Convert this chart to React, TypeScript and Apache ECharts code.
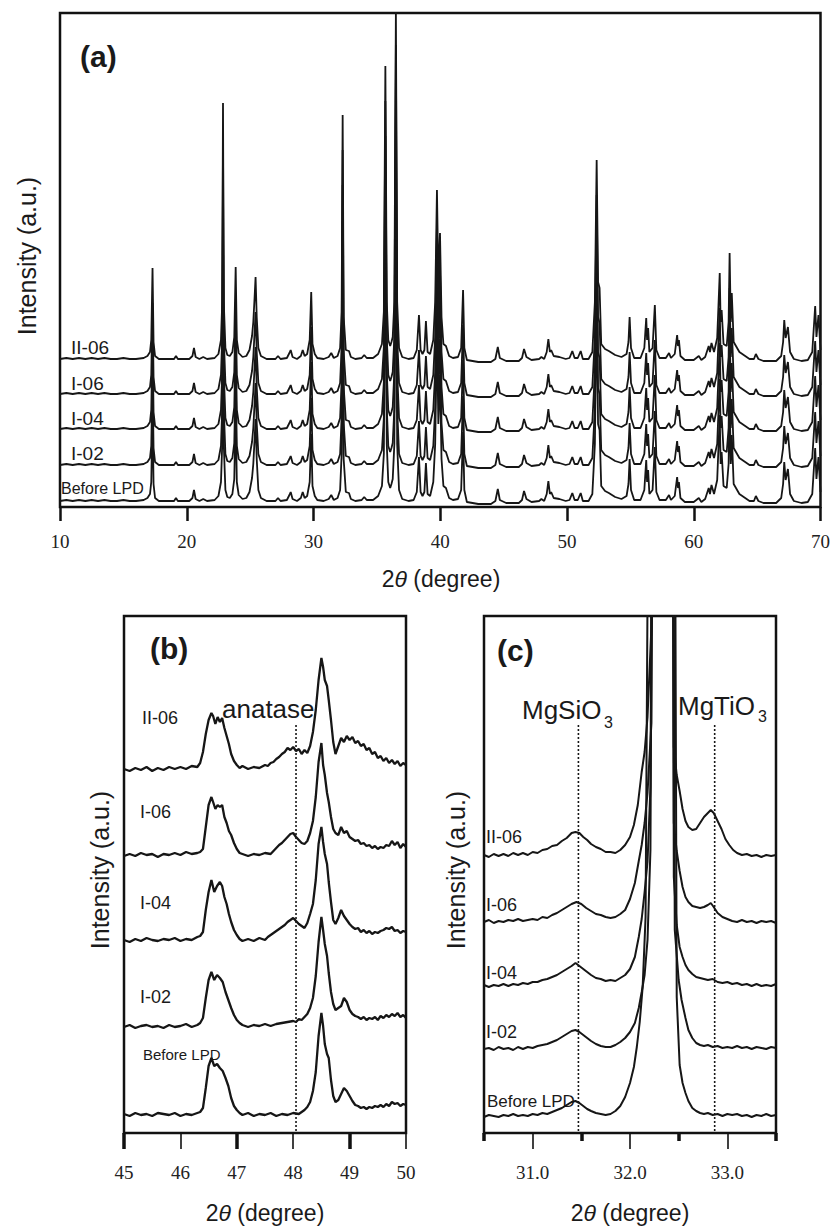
import React, { useEffect, useRef } from "react";
import * as echarts from "echarts";

// ---------------- DATA ----------------
const SAMPLES = ["Before LPD", "I-02", "I-04", "I-06", "II-06"];

const X_TICKS_A = [10, 20, 30, 40, 50, 60, 70];
const X_TICKS_B = [45, 46, 47, 48, 49, 50];
const X_TICKS_B_BOLD = [45, 47, 49];
const X_TICKS_C = [31, 32, 33];
const X_TICKS_C_BOLD = [30.5, 31.5, 32.5, 33.5];

// vertical stacking offsets (px units of each panel's intensity axis)
const A_OFFSETS = [3, 39, 75, 110, 145];
const B_OFFSETS = [17, 105, 191, 276, 361];
const C_OFFSETS = [16, 83, 146, 210, 276];

// reference positions of dotted marker lines (2θ)
const ANATASE_POS = 48.05;
const MGSIO3_POS = 31.47;
const MGTIO3_POS = 32.87;
const MARK_RANGE = [2, 410];

// panel (a) pattern: [2θ, intensity above baseline]
const PATTERN_A = [
  [10, 3], [10.5, 4], [11, 3], [11.5, 4], [12, 3], [12.5, 4], [13, 3], [13.5, 4], [14, 3], [14.5, 3], [15, 4], [15.5, 3], [16, 3], [16.6, 4], [16.9, 6], [17.1, 10], [17.2, 22], [17.3, 94], [17.38, 20], [17.5, 6], [17.8, 3],
  [18.5, 3], [19.0, 3], [19.15, 6], [19.3, 3], [20.2, 3], [20.45, 6], [20.57, 14], [20.7, 5], [21.0, 3], [21.3, 5], [21.6, 3], [22.2, 4], [22.5, 8], [22.7, 22], [22.8, 60], [22.86, 259], [22.92, 60], [23.05, 14], [23.2, 7], [23.4, 6], [23.6, 10], [23.75, 25], [23.86, 95], [23.95, 22], [24.1, 9], [24.4, 5], [24.7, 6], [24.95, 12], [25.15, 26], [25.25, 40], [25.35, 64], [25.43, 85], [25.52, 45], [25.65, 14], [25.85, 6],
  [26.3, 3], [27.0, 3], [27.2, 6], [27.4, 3], [27.9, 4], [28.1, 9], [28.2, 12], [28.35, 5], [28.7, 3], [29.0, 6], [29.15, 12], [29.3, 6], [29.5, 8], [29.7, 22], [29.82, 70], [29.92, 18], [30.1, 8], [30.3, 4], [30.8, 3], [31.2, 5], [31.4, 9], [31.6, 4], [31.9, 6], [32.1, 14], [32.22, 50], [32.3, 247], [32.38, 45], [32.55, 12], [32.8, 11], [32.95, 5], [33.3, 3], [33.8, 4], [34.0, 7], [34.2, 4], [34.7, 4],
  [35.1, 8], [35.4, 18], [35.55, 50], [35.67, 296], [35.78, 60], [35.9, 22], [36.05, 16], [36.15, 20], [36.25, 25], [36.38, 60], [36.5, 352], [36.6, 60], [36.75, 14], [37.0, 5], [37.5, 3], [37.9, 4], [38.15, 12], [38.32, 47], [38.45, 12], [38.6, 8], [38.75, 12], [38.87, 41], [39.0, 10], [39.2, 8], [39.45, 22], [39.6, 60], [39.74, 172], [39.85, 80], [39.98, 129], [40.1, 45], [40.25, 18], [40.45, 16], [40.7, 6], [41.0, 4], [41.4, 5], [41.65, 14], [41.8, 72], [41.9, 14], [42.1, 2],
  [43.0, 0], [44.0, 0], [44.35, 3], [44.54, 15], [44.7, 4], [45.2, 1], [46.2, 1], [46.45, 4], [46.61, 13], [46.8, 5], [47.2, 2], [47.8, 3], [47.98, 5], [48.2, 3], [48.4, 10], [48.53, 23], [48.65, 10], [48.75, 12], [48.95, 6], [49.4, 5], [49.9, 3], [50.2, 4], [50.42, 11], [50.6, 4], [50.85, 4], [51.08, 11], [51.25, 3], [51.7, 3],
  [52.0, 10], [52.2, 60], [52.34, 202], [52.45, 80], [52.57, 74], [52.7, 18], [53.0, 13], [53.3, 11], [53.8, 7], [54.3, 5], [54.7, 8], [54.85, 20], [54.94, 45], [55.05, 14], [55.3, 4], [55.8, 4], [56.1, 14], [56.25, 44], [56.32, 22], [56.4, 34], [56.5, 10], [56.75, 14], [56.93, 57], [57.05, 12], [57.3, 4], [57.8, 4], [58.05, 9], [58.2, 4], [58.5, 8], [58.69, 27], [58.76, 16], [58.83, 22], [58.95, 6], [59.3, 2],
  [60.0, 2], [60.4, 6], [60.6, 2], [60.9, 5], [61.18, 16], [61.28, 10], [61.4, 19], [61.6, 10], [61.85, 24], [62.05, 89], [62.12, 40], [62.2, 52], [62.35, 18], [62.6, 16], [62.75, 40], [62.83, 109], [62.92, 40], [63.0, 69], [63.15, 20], [63.6, 10], [64.4, 3], [64.75, 3], [64.9, 8], [65.1, 3], [65.5, 1], [66.5, 1], [66.9, 6], [67.05, 20], [67.14, 42], [67.25, 24], [67.43, 35], [67.6, 10], [67.9, 3], [68.5, 1], [69.0, 2], [69.35, 10], [69.5, 40], [69.58, 56], [69.68, 25], [69.84, 47], [70, 12],
];

// panel (b) traces
const B_BEFORE = [
  [45.0, 2], [45.1, 0], [45.2, 3], [45.3, 1], [45.4, 2], [45.5, 0], [45.6, 3], [45.7, 2], [45.8, 1], [45.9, 3], [46.0, 0], [46.1, 2], [46.2, 1], [46.3, 3], [46.35, 4], [46.4, 8], [46.45, 28], [46.5, 50], [46.55, 58], [46.6, 50], [46.65, 52], [46.7, 48], [46.75, 45], [46.8, 38], [46.85, 30], [46.9, 18], [46.95, 10], [47.0, 6], [47.05, 3],
  [47.1, 1], [47.2, 3], [47.3, 0], [47.4, 2], [47.5, 1], [47.6, 3], [47.7, 0], [47.8, 2], [47.9, 1], [48.0, 3], [48.1, 2], [48.15, 4], [48.2, 6], [48.25, 9], [48.3, 14], [48.35, 25], [48.4, 44], [48.45, 80], [48.5, 103], [48.53, 90], [48.56, 72], [48.6, 62], [48.63, 58], [48.67, 36], [48.71, 20], [48.75, 14], [48.8, 16], [48.85, 22], [48.9, 28], [48.95, 25],
  [49.0, 20], [49.05, 15], [49.1, 11], [49.15, 10], [49.2, 8], [49.25, 9], [49.3, 7], [49.35, 9], [49.4, 8], [49.45, 10], [49.5, 9], [49.55, 11], [49.6, 9], [49.65, 12], [49.7, 10], [49.75, 14], [49.8, 12], [49.85, 13], [49.9, 10], [49.95, 12], [50.0, 11],
];
const B_I02 = [
  [45.0, 1], [45.1, 3], [45.2, 0], [45.3, 2], [45.4, 3], [45.5, 1], [45.6, 2], [45.7, 0], [45.8, 3], [45.9, 1], [46.0, 2], [46.1, 4], [46.2, 1], [46.3, 3], [46.35, 5], [46.4, 10], [46.45, 30], [46.5, 48], [46.55, 56], [46.6, 48], [46.65, 53], [46.7, 50], [46.75, 46], [46.8, 36], [46.85, 28], [46.9, 20], [46.95, 13], [47.0, 8], [47.05, 5], [47.1, 3],
  [47.2, 1], [47.3, 3], [47.4, 2], [47.5, 4], [47.6, 2], [47.7, 4], [47.8, 5], [47.9, 6], [48.0, 7], [48.05, 6], [48.1, 9], [48.15, 8], [48.2, 11], [48.25, 14], [48.3, 20], [48.35, 30], [48.4, 52], [48.45, 86], [48.5, 111], [48.53, 98], [48.56, 84], [48.6, 72], [48.63, 55], [48.67, 36], [48.71, 24], [48.75, 18], [48.8, 20], [48.85, 22], [48.9, 30], [48.95, 26],
  [49.0, 18], [49.05, 14], [49.1, 12], [49.15, 11], [49.2, 9], [49.25, 11], [49.3, 8], [49.35, 10], [49.4, 9], [49.45, 11], [49.5, 8], [49.55, 12], [49.6, 10], [49.65, 13], [49.7, 11], [49.75, 14], [49.8, 12], [49.85, 15], [49.9, 11], [49.95, 13], [50.0, 10],
];
const B_I04 = [
  [45.0, 2], [45.1, 0], [45.2, 3], [45.3, 1], [45.4, 4], [45.5, 2], [45.6, 1], [45.7, 3], [45.8, 2], [45.9, 4], [46.0, 1], [46.1, 3], [46.2, 2], [46.3, 5], [46.35, 6], [46.4, 10], [46.45, 32], [46.5, 50], [46.55, 62], [46.6, 50], [46.65, 56], [46.7, 60], [46.74, 56], [46.78, 45], [46.82, 38], [46.86, 28], [46.9, 20], [46.95, 12], [47.0, 7], [47.05, 3],
  [47.1, 1], [47.2, 3], [47.3, 1], [47.4, 4], [47.5, 2], [47.55, 5], [47.6, 7], [47.65, 9], [47.7, 11], [47.75, 13], [47.8, 15], [47.85, 17], [47.9, 20], [47.95, 22], [48.0, 24], [48.05, 21], [48.1, 18], [48.15, 16], [48.2, 14], [48.25, 19], [48.3, 28], [48.35, 38], [48.4, 62], [48.45, 98], [48.5, 115], [48.53, 100], [48.56, 88], [48.6, 78], [48.63, 60], [48.67, 40], [48.71, 22], [48.75, 18], [48.8, 24], [48.85, 32], [48.9, 26], [48.95, 22],
  [49.0, 18], [49.05, 15], [49.1, 13], [49.15, 14], [49.2, 10], [49.25, 12], [49.3, 9], [49.35, 11], [49.4, 8], [49.45, 10], [49.5, 9], [49.55, 11], [49.6, 12], [49.65, 14], [49.7, 13], [49.75, 15], [49.8, 11], [49.85, 12], [49.9, 9], [49.95, 11], [50.0, 10],
];
const B_I06 = [
  [45.0, 1], [45.1, 3], [45.2, 1], [45.3, 4], [45.4, 2], [45.5, 3], [45.6, 0], [45.7, 3], [45.8, 2], [45.9, 4], [46.0, 2], [46.1, 5], [46.2, 3], [46.3, 4], [46.35, 5], [46.4, 8], [46.45, 30], [46.5, 52], [46.55, 60], [46.58, 55], [46.62, 48], [46.66, 52], [46.7, 50], [46.74, 52], [46.78, 40], [46.82, 34], [46.86, 26], [46.9, 22], [46.95, 14], [47.0, 8], [47.05, 4],
  [47.1, 3], [47.2, 1], [47.3, 3], [47.4, 2], [47.5, 4], [47.6, 3], [47.65, 6], [47.7, 9], [47.75, 12], [47.8, 14], [47.85, 17], [47.9, 20], [47.95, 23], [48.0, 24], [48.05, 20], [48.1, 17], [48.15, 14], [48.2, 13], [48.25, 16], [48.3, 24], [48.35, 36], [48.4, 60], [48.45, 95], [48.5, 114], [48.53, 92], [48.56, 82], [48.6, 64], [48.63, 55], [48.67, 40], [48.71, 28], [48.75, 24], [48.8, 22], [48.85, 30], [48.9, 24], [48.95, 26],
  [49.0, 20], [49.05, 18], [49.1, 16], [49.15, 17], [49.2, 13], [49.25, 14], [49.3, 11], [49.35, 12], [49.4, 9], [49.45, 11], [49.5, 8], [49.55, 10], [49.6, 9], [49.65, 12], [49.7, 11], [49.75, 16], [49.8, 12], [49.85, 15], [49.9, 9], [49.95, 13], [50.0, 10],
];
const B_II06 = [
  [45.0, 3], [45.1, 1], [45.2, 4], [45.3, 2], [45.4, 5], [45.5, 1], [45.6, 4], [45.7, 2], [45.8, 5], [45.9, 3], [46.0, 5], [46.1, 3], [46.2, 6], [46.3, 5], [46.35, 9], [46.4, 20], [46.45, 38], [46.5, 52], [46.55, 59], [46.58, 56], [46.62, 48], [46.66, 55], [46.7, 50], [46.74, 54], [46.78, 44], [46.82, 36], [46.86, 28], [46.9, 18], [46.95, 11], [47.0, 7], [47.05, 4],
  [47.1, 6], [47.2, 3], [47.3, 5], [47.4, 4], [47.5, 7], [47.55, 6], [47.6, 9], [47.65, 10], [47.7, 13], [47.75, 15], [47.8, 18], [47.85, 20], [47.9, 24], [47.95, 22], [48.0, 25], [48.05, 21], [48.1, 23], [48.15, 18], [48.2, 22], [48.25, 19], [48.3, 26], [48.35, 40], [48.4, 62], [48.45, 92], [48.5, 114], [48.53, 105], [48.56, 92], [48.6, 86], [48.63, 72], [48.67, 52], [48.71, 30], [48.75, 18], [48.8, 26], [48.85, 34], [48.9, 30], [48.95, 36],
  [49.0, 32], [49.05, 35], [49.1, 29], [49.15, 31], [49.2, 26], [49.25, 28], [49.3, 22], [49.35, 24], [49.4, 18], [49.45, 20], [49.5, 14], [49.55, 16], [49.6, 11], [49.65, 14], [49.7, 9], [49.75, 12], [49.8, 8], [49.85, 11], [49.9, 6], [49.95, 9], [50.0, 7],
];

// panel (c) traces
const C_BEFORE = [
  [30.5, 0], [30.55, 2], [30.6, 1], [30.65, 0], [30.7, 2], [30.75, 1], [30.8, 3], [30.85, 1], [30.9, 2], [30.95, 1], [31.0, 3], [31.05, 2], [31.1, 4], [31.15, 3], [31.2, 5], [31.25, 7], [31.3, 9], [31.35, 12], [31.4, 15], [31.44, 16], [31.48, 14], [31.52, 11], [31.56, 8], [31.6, 6], [31.65, 4], [31.7, 3], [31.75, 2], [31.8, 3], [31.85, 6], [31.9, 11], [31.95, 20],
  [32.0, 34], [32.04, 50], [32.07, 70], [32.1, 95], [32.13, 130], [32.16, 200], [32.21, 1000], [32.45, 1000], [32.48, 120], [32.51, 52], [32.54, 34], [32.57, 24], [32.6, 16], [32.64, 9], [32.68, 6], [32.72, 4], [32.76, 3], [32.8, 4], [32.85, 2], [32.9, 3], [32.95, 1],
  [33.0, 3], [33.05, 2], [33.1, 3], [33.15, 1], [33.2, 2], [33.25, 0], [33.3, 2], [33.35, 1], [33.4, 3], [33.45, 1], [33.5, 2],
];
const C_I02 = [
  [30.5, 1], [30.55, 2], [30.6, 0], [30.65, 3], [30.7, 1], [30.75, 2], [30.8, 0], [30.85, 3], [30.9, 1], [30.95, 3], [31.0, 2], [31.05, 4], [31.1, 5], [31.15, 6], [31.2, 8], [31.25, 10], [31.3, 13], [31.35, 16], [31.4, 19], [31.44, 20], [31.48, 18], [31.52, 15], [31.56, 12], [31.6, 9], [31.65, 6], [31.7, 4], [31.75, 3], [31.8, 3], [31.85, 5], [31.9, 8], [31.95, 12],
  [32.0, 18], [32.05, 27], [32.09, 42], [32.12, 58], [32.15, 75], [32.18, 110], [32.21, 200], [32.25, 1000], [32.43, 1000], [32.46, 120], [32.5, 70], [32.53, 50], [32.57, 32], [32.6, 20], [32.64, 12], [32.68, 7], [32.72, 5], [32.76, 4], [32.8, 5], [32.85, 3], [32.9, 4], [32.95, 2],
  [33.0, 3], [33.05, 2], [33.1, 4], [33.15, 2], [33.2, 3], [33.25, 1], [33.3, 3], [33.35, 2], [33.4, 1], [33.45, 3], [33.5, 2],
];
const C_I04 = [
  [30.5, 2], [30.55, 0], [30.6, 2], [30.65, 1], [30.7, 3], [30.75, 1], [30.8, 3], [30.85, 2], [30.9, 4], [30.95, 3], [31.0, 5], [31.05, 5], [31.1, 7], [31.15, 8], [31.2, 10], [31.25, 12], [31.3, 15], [31.35, 18], [31.4, 21], [31.44, 24], [31.48, 21], [31.52, 18], [31.56, 15], [31.6, 12], [31.65, 9], [31.7, 8], [31.75, 6], [31.8, 7], [31.85, 6], [31.9, 9], [31.95, 12],
  [32.0, 18], [32.05, 30], [32.09, 50], [32.12, 68], [32.15, 95], [32.18, 125], [32.21, 200], [32.25, 1000], [32.43, 1000], [32.45, 110], [32.48, 62], [32.51, 40], [32.54, 30], [32.57, 22], [32.6, 17], [32.64, 13], [32.68, 10], [32.72, 9], [32.76, 8], [32.8, 7], [32.85, 8], [32.9, 5], [32.95, 4],
  [33.0, 5], [33.05, 3], [33.1, 4], [33.15, 2], [33.2, 3], [33.25, 1], [33.3, 3], [33.35, 1], [33.4, 2], [33.45, 1], [33.5, 3],
];
const C_I06 = [
  [30.5, 1], [30.55, 3], [30.6, 0], [30.65, 2], [30.7, 1], [30.75, 3], [30.8, 2], [30.85, 4], [30.9, 2], [30.95, 3], [31.0, 4], [31.05, 3], [31.1, 6], [31.15, 5], [31.2, 8], [31.25, 10], [31.3, 13], [31.35, 16], [31.4, 19], [31.45, 21], [31.5, 19], [31.55, 15], [31.6, 12], [31.65, 9], [31.7, 8], [31.75, 6], [31.8, 5], [31.85, 6], [31.9, 9], [31.95, 13],
  [32.0, 24], [32.05, 40], [32.09, 62], [32.12, 78], [32.15, 100], [32.18, 130], [32.22, 200], [32.26, 1000], [32.43, 1000], [32.45, 100], [32.48, 72], [32.51, 52], [32.54, 36], [32.57, 26], [32.6, 21], [32.64, 17], [32.68, 16], [32.72, 15], [32.76, 16], [32.8, 18], [32.83, 20], [32.86, 16], [32.9, 10], [32.95, 6],
  [33.0, 4], [33.05, 2], [33.1, 1], [33.15, 3], [33.2, 1], [33.25, 2], [33.3, 0], [33.35, 2], [33.4, 1], [33.45, 2], [33.5, 0],
];
const C_II06 = [
  [30.5, 2], [30.55, 0], [30.6, 3], [30.65, 1], [30.7, 3], [30.75, 1], [30.8, 4], [30.85, 2], [30.9, 4], [30.95, 2], [31.0, 5], [31.05, 4], [31.1, 7], [31.15, 8], [31.2, 11], [31.25, 12], [31.3, 16], [31.35, 19], [31.4, 24], [31.44, 25], [31.48, 24], [31.52, 20], [31.56, 17], [31.6, 13], [31.65, 10], [31.7, 8], [31.75, 5], [31.8, 5], [31.85, 4], [31.9, 7], [31.95, 12],
  [32.0, 20], [32.04, 32], [32.08, 52], [32.12, 85], [32.15, 105], [32.18, 140], [32.22, 230], [32.26, 1000], [32.43, 1000], [32.45, 110], [32.48, 82], [32.51, 66], [32.54, 48], [32.57, 36], [32.6, 30], [32.64, 27], [32.68, 28], [32.72, 34], [32.76, 40], [32.8, 44], [32.83, 47], [32.86, 44], [32.9, 36], [32.94, 28], [32.98, 18],
  [33.02, 12], [33.06, 7], [33.1, 4], [33.15, 2], [33.2, 3], [33.25, 1], [33.3, 2], [33.35, 0], [33.4, 2], [33.45, 1], [33.5, 2],
];

const A_TRACES = [PATTERN_A, PATTERN_A, PATTERN_A, PATTERN_A, PATTERN_A];
const B_TRACES = [B_BEFORE, B_I02, B_I04, B_I06, B_II06];
const C_TRACES = [C_BEFORE, C_I02, C_I04, C_I06, C_II06];

// ---------------- CHART ----------------
const SANS = "Liberation Sans";
const SERIF = "Liberation Serif";
const INK = "#161616";

function traceSeries(traces: number[][][], offsets: number[], axis: number, width: number) {
  return traces.map((pts, i) => ({
    type: "line",
    name: SAMPLES[i],
    xAxisIndex: axis,
    yAxisIndex: axis,
    data: pts.map(([x, h]) => [x, h + offsets[i]]),
    showSymbol: false,
    symbol: "none",
    clip: true,
    silent: true,
    lineStyle: { color: INK, width, join: "bevel" },
    z: 3,
  }));
}

function markSeries(pos: number, axis: number) {
  return {
    type: "line",
    xAxisIndex: axis,
    yAxisIndex: axis,
    data: [[pos, MARK_RANGE[0]], [pos, MARK_RANGE[1]]],
    showSymbol: false,
    symbol: "none",
    silent: true,
    lineStyle: { color: INK, width: 1.6, type: [2, 2] },
    z: 2,
  };
}

function txt(text: string, x: number, y: number, size: number, extra: any = {}) {
  return {
    type: "text",
    x,
    y,
    silent: true,
    style: {
      text,
      fontSize: size,
      fontFamily: SANS,
      fill: "#1a1a1a",
      align: extra.align || "left",
      verticalAlign: "middle",
      fontWeight: extra.bold ? "bold" : "normal",
      rich: extra.rich,
    },
    rotation: extra.rotation || 0,
  };
}

const thetaRich = { i: { fontStyle: "italic", fontSize: 23, fontFamily: SANS, fill: "#1a1a1a" } };

export default function App() {
  const ref = useRef<HTMLDivElement>(null);
  useEffect(() => {
    if (!ref.current) return;
    const chart = echarts.init(ref.current, undefined, { renderer: "svg" });
    const gridStyle = { show: true, borderColor: "#111", borderWidth: 2.5, backgroundColor: "transparent" };
    const hiddenY = (g: number, max: number) => ({
      type: "value", gridIndex: g, min: 0, max, show: false,
      axisLine: { show: false }, axisTick: { show: false }, axisLabel: { show: false }, splitLine: { show: false },
    });
    const labelStyle = { fontFamily: SERIF, fontSize: 19, color: "#222" };
    const option: any = {
      animation: false,
      backgroundColor: "#fff",
      grid: [
        { left: 60, top: 13, width: 762, height: 494, ...gridStyle },
        { left: 124, top: 616, width: 282, height: 517, ...gridStyle },
        { left: 484, top: 616, width: 292, height: 517, ...gridStyle },
      ],
      xAxis: [
        {
          type: "value", gridIndex: 0, min: X_TICKS_A[0], max: X_TICKS_A[X_TICKS_A.length - 1], interval: 10,
          axisLine: { show: false },
          axisTick: { show: true, length: 14, lineStyle: { color: "#111", width: 2.5 } },
          axisLabel: { ...labelStyle, margin: 25 },
          splitLine: { show: false },
        },
        {
          type: "value", gridIndex: 1, min: 45, max: 50,
          axisLine: { show: false },
          axisTick: { show: true, length: 16, customValues: X_TICKS_B, lineStyle: { color: "#111", width: 1.6 } },
          axisLabel: { ...labelStyle, margin: 30, customValues: X_TICKS_B },
          splitLine: { show: false },
        },
        {
          type: "value", gridIndex: 2, min: 30.5, max: 33.5,
          axisLine: { show: false },
          axisTick: { show: true, length: 16, customValues: X_TICKS_C, lineStyle: { color: "#111", width: 1.6 } },
          axisLabel: { ...labelStyle, margin: 30, customValues: X_TICKS_C, formatter: (v: number) => v.toFixed(1) },
          splitLine: { show: false },
        },
        {
          type: "value", gridIndex: 1, min: 45, max: 50, position: "bottom",
          axisLine: { show: false },
          axisTick: { show: true, length: 16, customValues: X_TICKS_B_BOLD, lineStyle: { color: "#111", width: 3.5 } },
          axisLabel: { show: false },
          splitLine: { show: false },
        },
        {
          type: "value", gridIndex: 2, min: 30.5, max: 33.5, position: "bottom",
          axisLine: { show: false },
          axisTick: { show: true, length: 8, customValues: X_TICKS_C_BOLD, lineStyle: { color: "#111", width: 3.5 } },
          axisLabel: { show: false },
          splitLine: { show: false },
        },
      ],
      yAxis: [hiddenY(0, 494), hiddenY(1, 517), hiddenY(2, 517)],
      series: [
        ...traceSeries(A_TRACES, A_OFFSETS, 0, 1.8),
        ...traceSeries(B_TRACES, B_OFFSETS, 1, 2.3),
        ...traceSeries(C_TRACES, C_OFFSETS, 2, 2.0),
        markSeries(ANATASE_POS, 1),
        markSeries(MGSIO3_POS, 2),
        markSeries(MGTIO3_POS, 2),
      ],
      graphic: {
        elements: [
          txt("(a)", 80, 56, 30, { bold: true }),
          txt("(b)", 150, 648, 30, { bold: true }),
          txt("(c)", 497, 650, 30, { bold: true }),
          txt("Intensity (a.u.)", 27, 256, 25, { align: "center", rotation: Math.PI / 2 }),
          txt("Intensity (a.u.)", 100, 870, 25, { align: "center", rotation: Math.PI / 2 }),
          txt("Intensity (a.u.)", 456, 870, 25, { align: "center", rotation: Math.PI / 2 }),
          txt("2{i|θ} (degree)", 441, 579, 23, { align: "center", rich: thetaRich }),
          txt("2{i|θ} (degree)", 265, 1213, 23, { align: "center", rich: thetaRich }),
          txt("2{i|θ} (degree)", 630, 1213, 23, { align: "center", rich: thetaRich }),
          txt("II-06", 71, 347, 19),
          txt("I-06", 71, 383, 19),
          txt("I-04", 71, 418, 19),
          txt("I-02", 71, 453, 19),
          txt("Before LPD", 61, 488, 16),
          txt("II-06", 142, 718, 18),
          txt("I-06", 140, 812, 18),
          txt("I-04", 140, 903, 18),
          txt("I-02", 140, 997, 18),
          txt("Before LPD", 143, 1054, 15),
          txt("II-06", 486, 837, 18),
          txt("I-06", 486, 905, 18),
          txt("I-04", 486, 973, 18),
          txt("I-02", 486, 1032, 18),
          txt("Before LPD", 487, 1101, 17),
          txt("anatase", 222, 709, 26),
          txt("MgSiO", 522, 710, 26),
          txt("3", 604, 722, 16),
          txt("MgTiO", 678, 706, 26),
          txt("3", 758, 716, 16),
        ],
      },
    };
    chart.setOption(option);
    return () => chart.dispose();
  }, []);
  return (
    <div
      ref={ref}
      style={{ position: "absolute", left: 0, top: 0, width: 833, height: 1226, background: "#fff" }}
    />
  );
}
